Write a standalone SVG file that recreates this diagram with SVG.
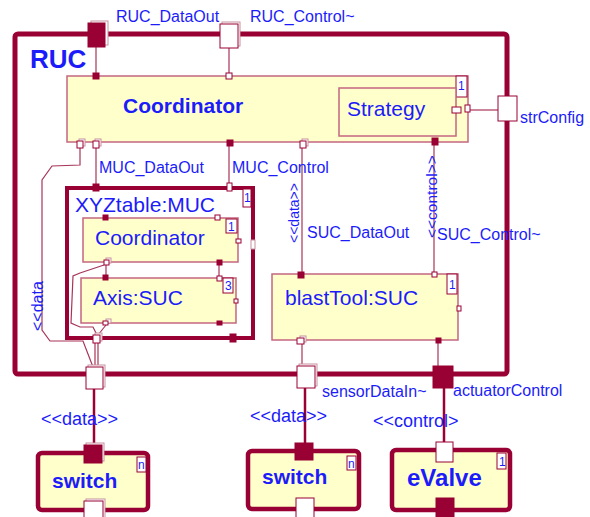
<svg xmlns="http://www.w3.org/2000/svg" width="590" height="517" viewBox="0 0 590 517">
<style>
.frame{fill:none;stroke:#990033;stroke-width:5}
.inner{fill:none;stroke:#990033;stroke-width:4}
.part{fill:#ffffcc;stroke:#c46680;stroke-width:1.5}
.node{fill:#ffffcc;stroke:#990033;stroke-width:4.5}
.wire{fill:none;stroke:#a83558;stroke-width:1.2}
.ext{fill:none;stroke:#990033;stroke-width:2.5}
.pw{fill:#ffffff;stroke:#990033;stroke-width:1}
.pws{fill:#ffffff;stroke:#c890a0;stroke-width:1}
.pf{fill:#990033;stroke:#990033;stroke-width:1}
.mult{fill:#ffffff;stroke:#990033;stroke-width:1}
text{font-family:"Liberation Sans",Arial,sans-serif;fill:#1c1cfa}
.lbl{font-size:16px}
.big{font-size:21px}
.bold{font-weight:bold}
.m{font-size:12px}
</style>

<g id="connectors">
  <polyline class="wire" points="96,47 96,73"/>
  <polyline class="wire" points="229,48 229,73"/>
  <polyline class="wire" points="470,110 498,110"/>
  <polyline class="wire" points="80,147 80,165 52,166 42,180 42,330 50,341 83,341 93,367"/>
  <polyline class="wire" points="96,147 96,187"/>
  <polyline class="wire" points="229,146 229,187"/>
  <polyline class="wire" points="302,147 302,272"/>
  <polyline class="wire" points="434,145 434,272"/>
  <polyline class="wire" points="106,264 106,278"/>
  <polyline class="wire" points="219,264 219,278"/>
  <polyline class="wire" points="104,265 80,273 73,276 71,323 80,327 93,327 97,335"/>
  <polyline class="wire" points="106,325 98,335"/>
  <polyline class="wire" points="95,343 95,367"/>
  <polyline class="wire" points="98,343 98,367"/>
  <polyline class="wire" points="302,344 302,366"/>
  <polyline class="wire" points="438,343 438,366"/>
  <polyline class="ext" points="94,389 94,445"/>
  <polyline class="ext" points="305,388 305,443"/>
  <polyline class="ext" points="444,388 444,442"/>
</g>

<g id="RUC">
  <rect class="frame" x="15" y="34" width="492" height="340" rx="3"/>
  <text class="bold" x="30" y="68" font-size="26">RUC</text>
  <rect class="pws" x="91" y="21" width="17" height="24"/>
  <rect class="pf" x="88" y="23" width="17" height="24"/>
  <text class="lbl" x="116" y="22">RUC_DataOut</text>
  <rect class="pws" x="222" y="22" width="18" height="24"/>
  <rect class="pw" x="220" y="24" width="18" height="24"/>
  <text class="lbl" x="250" y="22">RUC_Control~</text>
  <rect class="pw" x="498" y="96" width="19" height="25"/>
  <text class="lbl" x="520" y="123">strConfig</text>
  <rect class="pws" x="88" y="365" width="17" height="22"/>
  <rect class="pw" x="86" y="367" width="17" height="22"/>
  <rect class="pws" x="299" y="364" width="18" height="22"/>
  <rect class="pw" x="297" y="366" width="18" height="22"/>
  <text class="lbl" x="322" y="397">sensorDataIn~</text>
  <rect class="pf" x="433" y="366" width="20" height="22"/>
  <text class="lbl" x="453" y="396">actuatorControl</text>
  <text class="lbl" transform="translate(43,331) rotate(-90)" font-size="15">&lt;&lt;data</text>
  <text class="lbl" x="99" y="173">MUC_DataOut</text>
  <text class="lbl" x="232" y="173">MUC_Control</text>
  <text class="lbl" x="307" y="238">SUC_DataOut</text>
  <text class="lbl" x="437" y="240">SUC_Control~</text>
  <text transform="translate(299,243) rotate(-90)" font-size="14">&lt;&lt;data&gt;&gt;</text>
  <text transform="translate(437,238) rotate(-90)" font-size="15.5">&lt;&lt;control&gt;&gt;</text>
</g>

<g id="Coordinator">
  <rect class="part" x="67" y="76" width="401" height="66"/>
  <text class="big bold" x="123" y="113">Coordinator</text>
  <rect class="mult" x="456" y="76" width="11" height="21"/>
  <text class="m" x="458" y="90">1</text>
  <rect class="pf" x="93" y="73" width="6" height="6"/>
  <rect class="pw" x="226" y="73" width="6" height="6"/>
  <rect class="pw" x="465" y="105" width="5" height="7"/>
  <rect class="pws" x="79" y="139" width="6" height="7"/>
  <rect class="pw" x="77" y="141" width="6" height="7"/>
  <rect class="pws" x="95" y="139" width="6" height="7"/>
  <rect class="pw" x="93" y="141" width="6" height="7"/>
  <rect class="pf" x="227" y="140" width="6" height="6"/>
  <rect class="pws" x="302" y="139" width="6" height="7"/>
  <rect class="pw" x="300" y="141" width="6" height="7"/>
  <rect class="pf" x="432" y="138" width="6" height="7"/>
</g>

<g id="Strategy">
  <rect class="part" x="339" y="88" width="117" height="48"/>
  <text class="big" x="347" y="116">Strategy</text>
  <rect class="pw" x="452" y="107" width="9" height="6"/>
</g>

<g id="XYZtable">
  <rect class="inner" x="67" y="188" width="186" height="150"/>
  <rect class="mult" x="243" y="189" width="8" height="18"/>
  <text class="m" x="244" y="202">1</text>
  <text class="big" x="75" y="212">XYZtable:MUC</text>
  <rect class="pf" x="93" y="184" width="6" height="7"/>
  <rect class="pw" x="227" y="183" width="5" height="8"/>
  <rect class="pws" x="251" y="240" width="4" height="9"/>
  <rect class="pf" x="230" y="334" width="6" height="8"/>
  <rect class="pws" x="95" y="333" width="7" height="8"/>
  <rect class="pw" x="93" y="335" width="7" height="8"/>
</g>

<g id="XYZCoordinator">
  <rect class="part" x="83" y="218" width="155" height="44"/>
  <rect class="mult" x="226" y="219" width="11" height="14"/>
  <text class="m" x="228" y="231">1</text>
  <text class="big" x="95" y="245">Coordinator</text>
  <rect class="pf" x="103" y="215" width="5" height="5"/>
  <rect class="pw" x="215" y="215" width="5" height="5"/>
  <rect class="pw" x="236" y="239" width="5" height="4"/>
  <rect class="pws" x="106" y="258" width="5" height="5"/>
  <rect class="pw" x="104" y="260" width="5" height="5"/>
  <rect class="pf" x="217" y="260" width="5" height="5"/>
</g>

<g id="AxisSUC">
  <rect class="part" x="81" y="278" width="155" height="45"/>
  <rect class="mult" x="223" y="278" width="10" height="15"/>
  <text class="m" x="225" y="290">3</text>
  <text class="big" x="93" y="305">Axis:SUC</text>
  <rect class="pf" x="103" y="275" width="5" height="5"/>
  <rect class="pw" x="217" y="276" width="5" height="5"/>
  <rect class="pw" x="234" y="299" width="4" height="4"/>
  <rect class="pws" x="106" y="319" width="5" height="4"/>
  <rect class="pw" x="103" y="321" width="5" height="4"/>
  <rect class="pf" x="217" y="321" width="5" height="4"/>
</g>

<g id="blastTool">
  <rect class="part" x="272" y="274" width="186" height="66"/>
  <rect class="mult" x="447" y="274" width="10" height="20"/>
  <text class="m" x="449" y="289">1</text>
  <text class="big" x="285" y="305">blastTool:SUC</text>
  <rect class="pf" x="298" y="272" width="6" height="6"/>
  <rect class="pw" x="432" y="272" width="5" height="5"/>
  <rect class="pw" x="457" y="306" width="4" height="5"/>
  <rect class="pws" x="300" y="336" width="6" height="6"/>
  <rect class="pw" x="297" y="338" width="7" height="6"/>
  <rect class="pf" x="436" y="338" width="5" height="5"/>
</g>

<g id="switch1">
  <text x="41" y="425" font-size="18">&lt;&lt;data&gt;&gt;</text>
  <rect class="node" x="38" y="453" width="110" height="57" rx="4"/>
  <rect class="mult" x="137" y="457" width="9" height="15"/>
  <text class="m" x="138" y="469">n</text>
  <text class="big bold" x="52" y="488">switch</text>
  <rect class="pws" x="86" y="443" width="18" height="18"/>
  <rect class="pf" x="84" y="445" width="18" height="18"/>
  <rect class="pws" x="86" y="499" width="19" height="19"/>
  <rect class="pw" x="84" y="501" width="19" height="18"/>
</g>

<g id="switch2">
  <text x="250" y="422" font-size="18">&lt;&lt;data&gt;&gt;</text>
  <rect class="node" x="248" y="451" width="111" height="58" rx="4"/>
  <rect class="mult" x="347" y="456" width="9" height="14"/>
  <text class="m" x="348" y="468">n</text>
  <text class="big bold" x="262" y="484">switch</text>
  <rect class="pf" x="295" y="443" width="18" height="17"/>
  <rect class="pw" x="296" y="498" width="18" height="20"/>
</g>

<g id="eValve">
  <text x="373" y="427" font-size="18">&lt;&lt;control&gt;</text>
  <rect class="node" x="392" y="450" width="118" height="60" rx="4"/>
  <rect class="mult" x="497" y="453" width="9" height="16"/>
  <text class="m" x="499" y="466">1</text>
  <text class="bold" x="407" y="486" font-size="24">eValve</text>
  <rect class="pw" x="436" y="442" width="17" height="20"/>
  <rect class="pf" x="436" y="498" width="18" height="20"/>
</g>
</svg>
